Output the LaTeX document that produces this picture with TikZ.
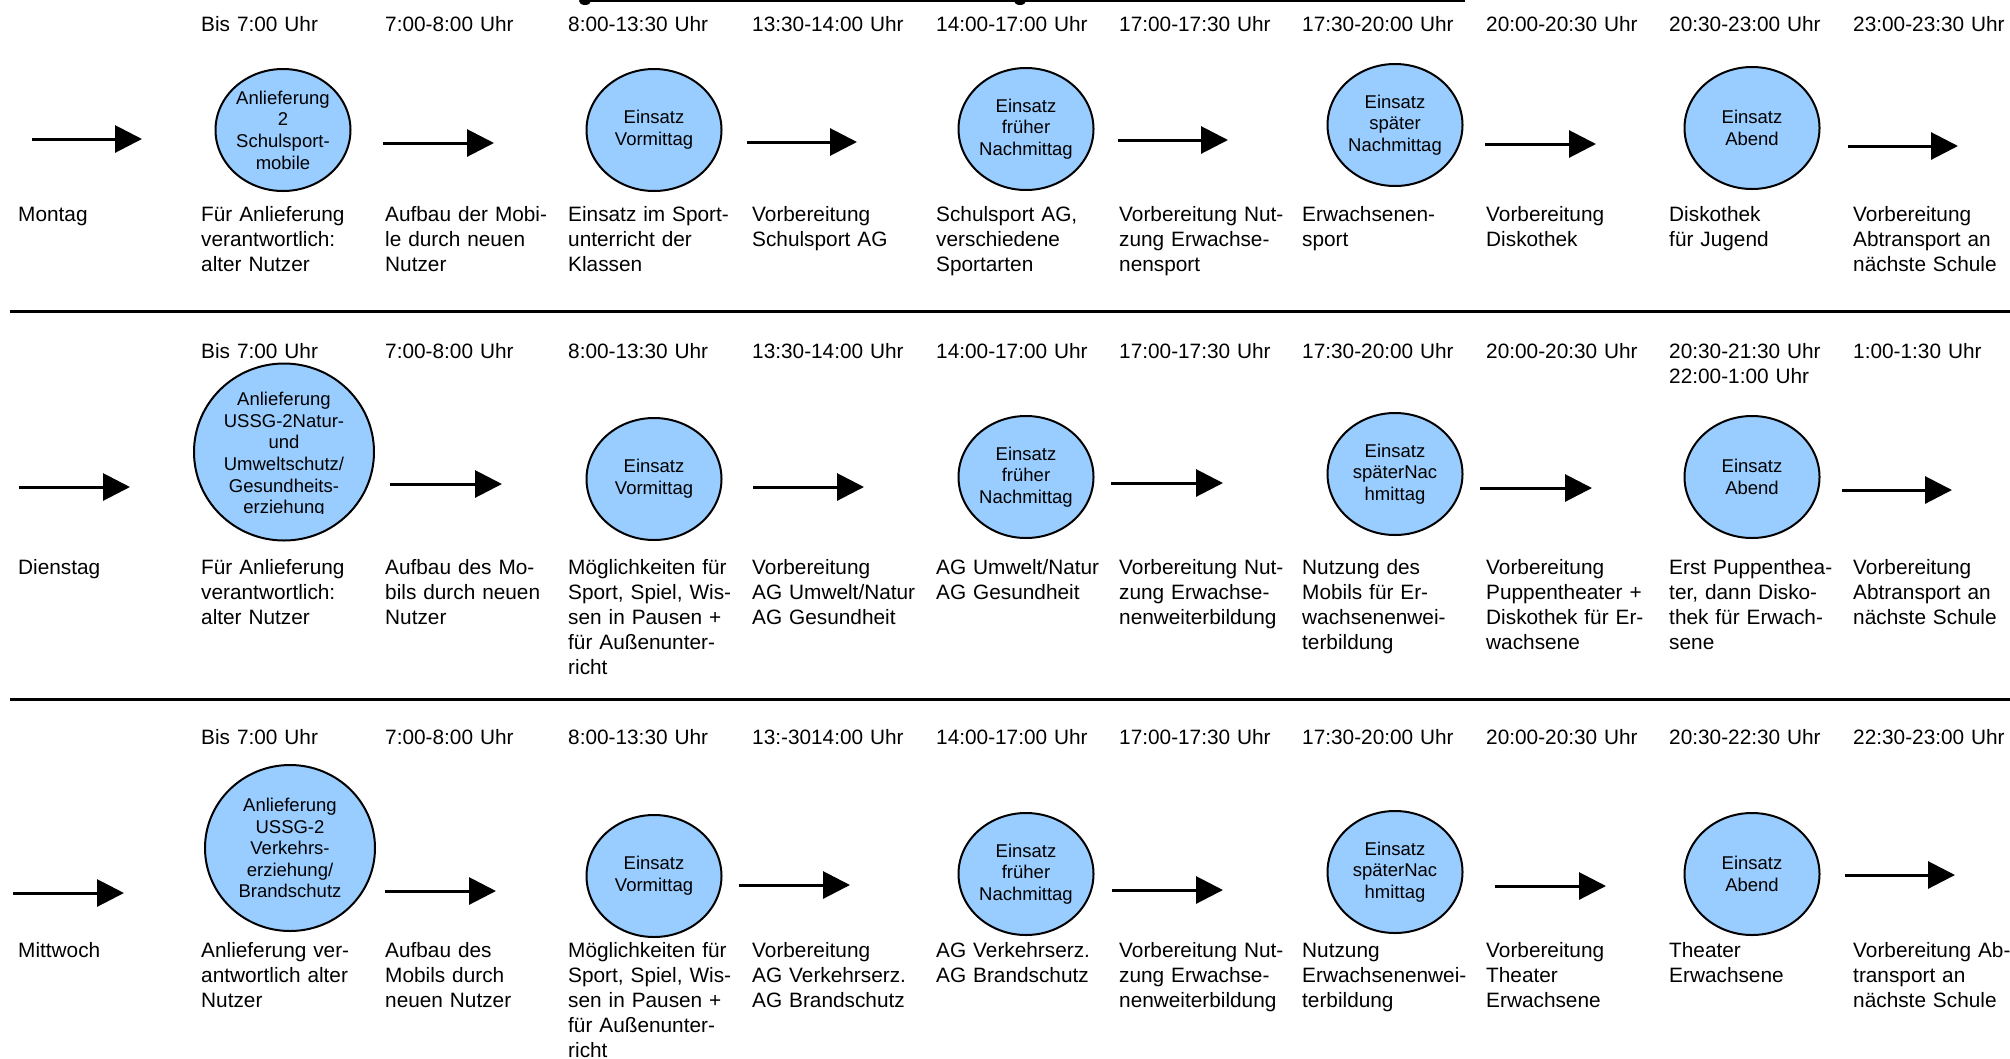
\documentclass[tikz,border=0pt]{standalone}
\usepackage{fontspec}
\setmainfont{Liberation Sans}
\usetikzlibrary{shapes.geometric,arrows.meta}
\definecolor{circ}{HTML}{99CCFF}
\newcommand\mfont{\fontsize{20.8}{25}\selectfont}
\newcommand\cfont{\fontsize{18.5}{21.6}\selectfont}
\begin{document}
\begin{tikzpicture}[x=1pt,y=-1pt,
  lbl/.style={anchor=base west,inner sep=0pt,text width=200pt,align=left,font=\mfont},
  blob/.style={ellipse,draw,line width=2pt,fill=circ,minimum width=135pt,minimum height=122pt,inner sep=0pt,align=center,font=\cfont},
  arr/.style={line width=3pt,-{Triangle[length=27pt,width=27pt]}},
  sep/.style={line width=3pt}]
\useasboundingbox (0,0) rectangle (2010,1058);
% top partial line
\coordinate (tl1) at (583,1);
\coordinate (tl2) at (1465,1);
\draw[line width=2pt] (tl1) -- (tl2);
\fill (585,1) ellipse (6pt and 4pt);
\fill (1020,1) ellipse (6pt and 4pt);

% ===== Row 1: Montag =====
\node[lbl] (t11) at (201,31) {Bis 7:00 Uhr};
\node[lbl] (t12) at (385,31) {7:00-8:00 Uhr};
\node[lbl] (t13) at (568,31) {8:00-13:30 Uhr};
\node[lbl] (t14) at (752,31) {13:30-14:00 Uhr};
\node[lbl] (t15) at (936,31) {14:00-17:00 Uhr};
\node[lbl] (t16) at (1119,31) {17:00-17:30 Uhr};
\node[lbl] (t17) at (1302,31) {17:30-20:00 Uhr};
\node[lbl] (t18) at (1486,31) {20:00-20:30 Uhr};
\node[lbl] (t19) at (1669,31) {20:30-23:00 Uhr};
\node[lbl] (t110) at (1853,31) {23:00-23:30 Uhr};

\node[blob] (c11) at (283,130) {Anlieferung\\2\\Schulsport-\\mobile};
\node[blob] (c12) at (654,130) {Einsatz\\Vormittag};
\node[blob] (c13) at (1026,129) {Einsatz\\früher\\Nachmittag};
\node[blob] (c14) at (1395,125) {Einsatz\\später\\Nachmittag};
\node[blob] (c15) at (1752,128) {Einsatz\\Abend};

\coordinate (a11s) at (32,139);   \coordinate (a11e) at (142,139);
\coordinate (a12s) at (383,143);  \coordinate (a12e) at (494,143);
\coordinate (a13s) at (747,142);  \coordinate (a13e) at (857,142);
\coordinate (a14s) at (1118,140); \coordinate (a14e) at (1228,140);
\coordinate (a15s) at (1485,144); \coordinate (a15e) at (1596,144);
\coordinate (a16s) at (1848,146); \coordinate (a16e) at (1958,146);
\foreach \i in {1,...,6} {\draw[arr] (a1\i s) -- (a1\i e);}

\node[lbl] (d1) at (18,221) {Montag};
\node[lbl] (b11) at (201,221) {Für Anlieferung\\verantwortlich:\\alter Nutzer};
\node[lbl] (b12) at (385,221) {Aufbau der Mobi-\\le durch neuen\\Nutzer};
\node[lbl] (b13) at (568,221) {Einsatz im Sport-\\unterricht der\\Klassen};
\node[lbl] (b14) at (752,221) {Vorbereitung\\Schulsport AG};
\node[lbl] (b15) at (936,221) {Schulsport AG,\\verschiedene\\Sportarten};
\node[lbl] (b16) at (1119,221) {Vorbereitung Nut-\\zung Erwachse-\\nensport};
\node[lbl] (b17) at (1302,221) {Erwachsenen-\\sport};
\node[lbl] (b18) at (1486,221) {Vorbereitung\\Diskothek};
\node[lbl] (b19) at (1669,221) {Diskothek\\für Jugend};
\node[lbl] (b110) at (1853,221) {Vorbereitung\\Abtransport an\\nächste Schule};

\coordinate (s1a) at (10,311); \coordinate (s1b) at (2010,311);
\draw[sep] (s1a) -- (s1b);

% ===== Row 2: Dienstag =====
\node[lbl] (t21) at (201,358) {Bis 7:00 Uhr};
\node[lbl] (t22) at (385,358) {7:00-8:00 Uhr};
\node[lbl] (t23) at (568,358) {8:00-13:30 Uhr};
\node[lbl] (t24) at (752,358) {13:30-14:00 Uhr};
\node[lbl] (t25) at (936,358) {14:00-17:00 Uhr};
\node[lbl] (t26) at (1119,358) {17:00-17:30 Uhr};
\node[lbl] (t27) at (1302,358) {17:30-20:00 Uhr};
\node[lbl] (t28) at (1486,358) {20:00-20:30 Uhr};
\node[lbl] (t29) at (1669,358) {20:30-21:30 Uhr\\22:00-1:00 Uhr};
\node[lbl] (t210) at (1853,358) {1:00-1:30 Uhr};

\node[blob,minimum width=180pt,minimum height=177pt] (c21) at (284,452) {};
\begin{scope}
  \clip (150,380) rectangle (420,513);
  \node[font=\cfont,align=center,inner sep=0pt] (c21t) at (284,455) {Anlieferung\\USSG-2Natur-\\und\\Umweltschutz/\\Gesundheits-\\erziehung};
\end{scope}
\node[blob] (c22) at (654,479) {Einsatz\\Vormittag};
\node[blob] (c23) at (1026,477) {Einsatz\\früher\\Nachmittag};
\node[blob] (c24) at (1395,474) {Einsatz\\späterNac\\hmittag};
\node[blob] (c25) at (1752,477) {Einsatz\\Abend};

\coordinate (a21s) at (19,487);   \coordinate (a21e) at (130,487);
\coordinate (a22s) at (390,484);  \coordinate (a22e) at (502,484);
\coordinate (a23s) at (753,487);  \coordinate (a23e) at (864,487);
\coordinate (a24s) at (1111,483); \coordinate (a24e) at (1223,483);
\coordinate (a25s) at (1480,488); \coordinate (a25e) at (1592,488);
\coordinate (a26s) at (1842,490); \coordinate (a26e) at (1952,490);
\foreach \i in {1,...,6} {\draw[arr] (a2\i s) -- (a2\i e);}

\node[lbl] (d2) at (18,574) {Dienstag};
\node[lbl] (b21) at (201,574) {Für Anlieferung\\verantwortlich:\\alter Nutzer};
\node[lbl] (b22) at (385,574) {Aufbau des Mo-\\bils durch neuen\\Nutzer};
\node[lbl] (b23) at (568,574) {Möglichkeiten für\\Sport, Spiel, Wis-\\sen in Pausen +\\für Außenunter-\\richt};
\node[lbl] (b24) at (752,574) {Vorbereitung\\AG Umwelt/Natur\\AG Gesundheit};
\node[lbl] (b25) at (936,574) {AG Umwelt/Natur\\AG Gesundheit};
\node[lbl] (b26) at (1119,574) {Vorbereitung Nut-\\zung Erwachse-\\nenweiterbildung};
\node[lbl] (b27) at (1302,574) {Nutzung des\\Mobils für Er-\\wachsenenwei-\\terbildung};
\node[lbl] (b28) at (1486,574) {Vorbereitung\\Puppentheater +\\Diskothek für Er-\\wachsene};
\node[lbl] (b29) at (1669,574) {Erst Puppenthea-\\ter, dann Disko-\\thek für Erwach-\\sene};
\node[lbl] (b210) at (1853,574) {Vorbereitung\\Abtransport an\\nächste Schule};

\coordinate (s2a) at (10,699); \coordinate (s2b) at (2010,699);
\draw[sep] (s2a) -- (s2b);

% ===== Row 3: Mittwoch =====
\node[lbl] (t31) at (201,744) {Bis 7:00 Uhr};
\node[lbl] (t32) at (385,744) {7:00-8:00 Uhr};
\node[lbl] (t33) at (568,744) {8:00-13:30 Uhr};
\node[lbl] (t34) at (752,744) {13:-3014:00 Uhr};
\node[lbl] (t35) at (936,744) {14:00-17:00 Uhr};
\node[lbl] (t36) at (1119,744) {17:00-17:30 Uhr};
\node[lbl] (t37) at (1302,744) {17:30-20:00 Uhr};
\node[lbl] (t38) at (1486,744) {20:00-20:30 Uhr};
\node[lbl] (t39) at (1669,744) {20:30-22:30 Uhr};
\node[lbl] (t310) at (1853,744) {22:30-23:00 Uhr};

\node[blob,minimum width=170pt,minimum height=166pt] (c31) at (290,848) {Anlieferung\\USSG-2\\Verkehrs-\\erziehung/\\Brandschutz};
\node[blob] (c32) at (654,876) {Einsatz\\Vormittag};
\node[blob] (c33) at (1026,874) {Einsatz\\früher\\Nachmittag};
\node[blob] (c34) at (1395,872) {Einsatz\\späterNac\\hmittag};
\node[blob] (c35) at (1752,874) {Einsatz\\Abend};

\coordinate (a31s) at (13,893);   \coordinate (a31e) at (124,893);
\coordinate (a32s) at (385,891);  \coordinate (a32e) at (496,891);
\coordinate (a33s) at (739,885);  \coordinate (a33e) at (850,885);
\coordinate (a34s) at (1112,890); \coordinate (a34e) at (1223,890);
\coordinate (a35s) at (1495,886); \coordinate (a35e) at (1606,886);
\coordinate (a36s) at (1845,875); \coordinate (a36e) at (1955,875);
\foreach \i in {1,...,6} {\draw[arr] (a3\i s) -- (a3\i e);}

\node[lbl] (d3) at (18,957) {Mittwoch};
\node[lbl] (b31) at (201,957) {Anlieferung ver-\\antwortlich alter\\Nutzer};
\node[lbl] (b32) at (385,957) {Aufbau des\\Mobils durch\\neuen Nutzer};
\node[lbl] (b33) at (568,957) {Möglichkeiten für\\Sport, Spiel, Wis-\\sen in Pausen +\\für Außenunter-\\richt};
\node[lbl] (b34) at (752,957) {Vorbereitung\\AG Verkehrserz.\\AG Brandschutz};
\node[lbl] (b35) at (936,957) {AG Verkehrserz.\\AG Brandschutz};
\node[lbl] (b36) at (1119,957) {Vorbereitung Nut-\\zung Erwachse-\\nenweiterbildung};
\node[lbl] (b37) at (1302,957) {Nutzung\\Erwachsenenwei-\\terbildung};
\node[lbl] (b38) at (1486,957) {Vorbereitung\\Theater\\Erwachsene};
\node[lbl] (b39) at (1669,957) {Theater\\Erwachsene};
\node[lbl] (b310) at (1853,957) {Vorbereitung Ab-\\transport an\\nächste Schule};
\end{tikzpicture}
\end{document}
